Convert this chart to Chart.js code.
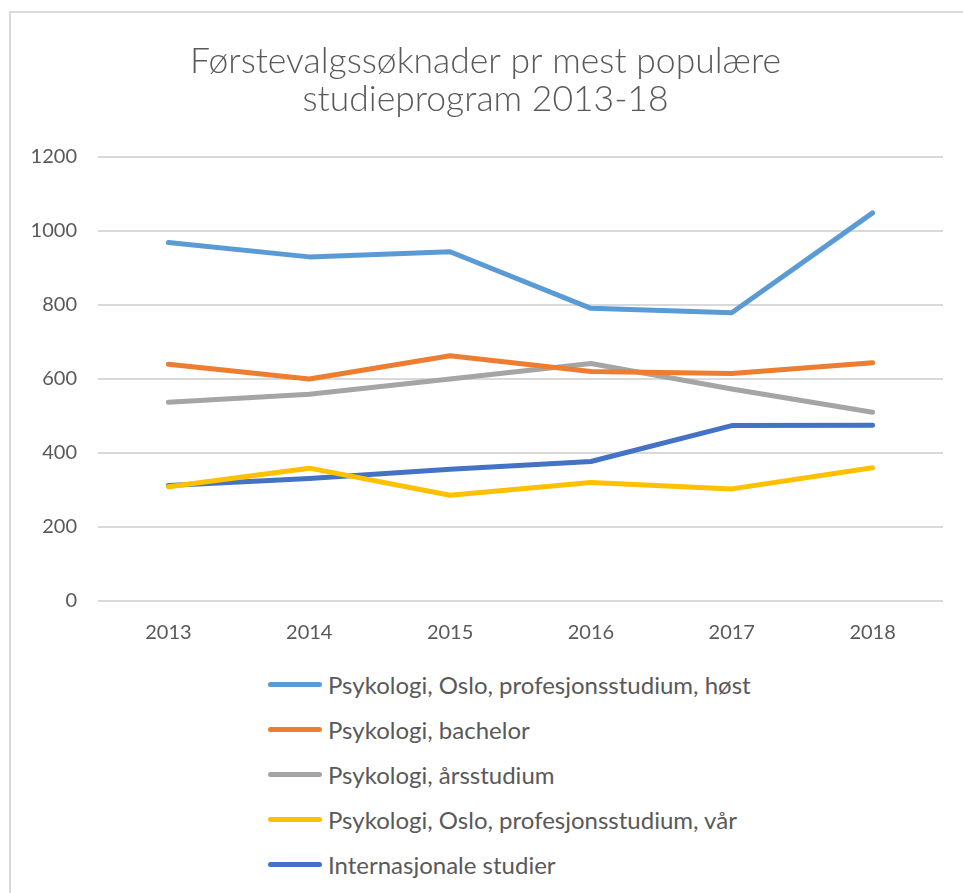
<!DOCTYPE html>
<html>
<head>
<meta charset="utf-8">
<script src="https://cdn.jsdelivr.net/npm/chart.js@4/dist/chart.umd.min.js"></script>
<style>
  html, body { margin: 0; padding: 0; background: #fff; overflow: hidden; }
  body { width: 963px; height: 893px; position: relative; }
  #ramme { position: absolute; left: 9px; top: 11px; width: 980px; height: 900px;
           border-left: 2px solid #d9d9d9; border-top: 2px solid #d9d9d9; }
  #graf { position: absolute; left: 0; top: 0; }
  #forklaring { position: absolute; left: 268px; top: 662px; font-family: Lato, sans-serif;
                font-size: 24px; color: #595959; }
  .rad { height: 45px; display: flex; align-items: center; }
  .strek { width: 54px; height: 5px; border-radius: 3px; margin-right: 6px; }
</style>
</head>
<body>
<div id="ramme"></div>
<canvas id="graf" width="963" height="650"></canvas>
<div id="forklaring"></div>
<script>
// år på x-aksen
const aar = ["2013", "2014", "2015", "2016", "2017", "2018"]

// studieprogram og farger
const programNavn = [
  "Psykologi, Oslo, profesjonsstudium, høst",
  "Psykologi, bachelor",
  "Psykologi, årsstudium",
  "Psykologi, Oslo, profesjonsstudium, vår",
  "Internasjonale studier"
]
const farger = ["#5B9BD5", "#ED7D31", "#A5A5A5", "#FFC000", "#4472C4"]

// førstevalgssøknader, lest av bildet
const psykHost = [969, 930, 944, 791, 779, 1049]
const psykBachelor = [640, 600, 663, 620, 615, 644]
const psykAarsstudium = [537, 559, 600, 642, 573, 510]
const psykVaar = [309, 359, 286, 320, 303, 360]
const internasjonale = [312, 331, 356, 377, 474, 475]

const serier = [psykHost, psykBachelor, psykAarsstudium, psykVaar, internasjonale]

// y-akse
const yMin = 0
const yMaks = 1200
const ySteg = 200

const tekstFarge = "#595959"
const rutenettFarge = "#d9d9d9"

const datasett = serier.map((verdier, i) => ({
  label: programNavn[i],
  data: verdier,
  borderColor: farger[i],
  backgroundColor: farger[i],
  borderWidth: 5,
  borderCapStyle: "round",
  borderJoinStyle: "round",
  pointRadius: 0,
  tension: 0
}))

new Chart(document.getElementById("graf"), {
  type: "line",
  data: { labels: aar, datasets: datasett },
  options: {
    responsive: false,
    animation: false,
    // venstre padding flytter tittelen litt mot høyre
    layout: { padding: { left: 28, right: 20, top: 0, bottom: 0 } },
    plugins: {
      legend: { display: false },
      tooltip: { enabled: false },
      title: {
        display: true,
        text: ["Førstevalgssøknader pr mest populære", "studieprogram 2013-18"],
        color: tekstFarge,
        font: { family: "Lato", size: 35.5, weight: "300", lineHeight: 1.07 },
        padding: { top: 43, bottom: 38 }
      }
    },
    scales: {
      x: {
        offset: true,
        grid: { display: false, drawTicks: false },
        border: { display: false },
        ticks: { color: tekstFarge, font: { family: "Lato", size: 20 }, padding: 20 },
        afterFit: (skala) => { skala.height = 49 }
      },
      y: {
        min: yMin,
        max: yMaks,
        grid: { color: rutenettFarge, lineWidth: 2, drawTicks: false },
        border: { display: false },
        ticks: {
          stepSize: ySteg,
          color: tekstFarge,
          font: { family: "Lato", size: 20 },
          padding: 21,
          callback: (verdi) => String(verdi)
        },
        afterFit: (skala) => { skala.width = 70 }
      }
    }
  }
})

// forklaring som liste under grafen
const forklaring = document.getElementById("forklaring")
programNavn.forEach((navn, i) => {
  const rad = document.createElement("div")
  rad.className = "rad"
  const strek = document.createElement("span")
  strek.className = "strek"
  strek.style.background = farger[i]
  const tekst = document.createElement("span")
  tekst.textContent = navn
  rad.appendChild(strek)
  rad.appendChild(tekst)
  forklaring.appendChild(rad)
})
</script>
</body>
</html>
